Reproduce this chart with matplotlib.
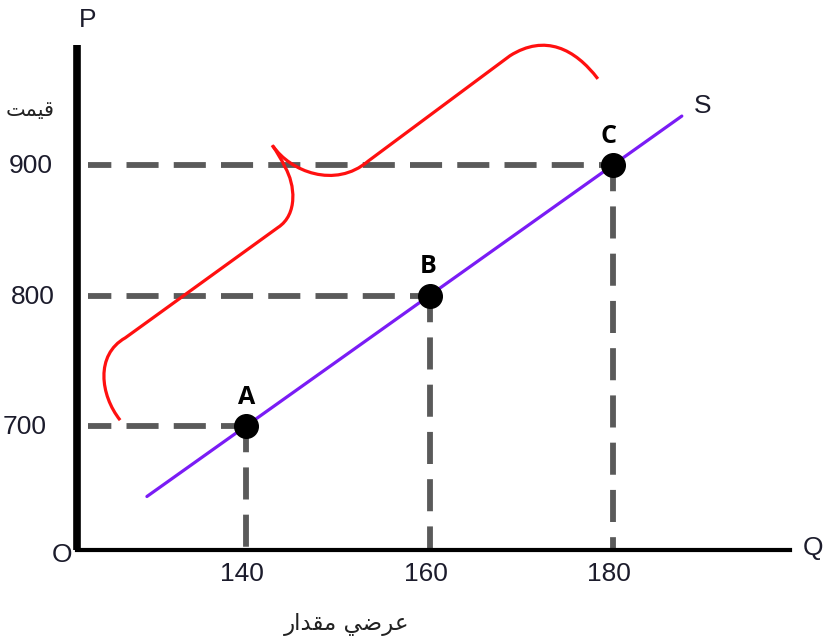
import matplotlib
matplotlib.use("Agg")
import matplotlib.pyplot as plt
from matplotlib.path import Path
from matplotlib.patches import PathPatch

# ---- data ----
point_labels = ["A", "B", "C"]
point_q = [140, 160, 180]
point_p = [700, 800, 900]
supply_q = [129.2, 140, 160, 180, 187.5]
supply_p = [646, 700, 800, 900, 937.5]
x_ticks = [140, 160, 180]
x_tick_labels = ["140", "160", "180"]
y_ticks = [700, 800, 900]
y_tick_labels = ["700", "800", "900"]
y_label = "\uFE96\uFEE4\uFEF4\uFED7"                      # قیمت (shaped, visual order)
x_label = "\uFEAD\uFE8D\uFEAA\uFED8\uFEE3 \uFEF2\uFEBF\uFEAE\uFECB"  # عرضی مقدار

# freehand brace annotation (data coords, Bezier control points)
brace_lower = [(126.28, 704.5), (124.11, 723.7), (123.56, 754.5), (126.83, 767.5),
               (143.50, 852.2), (145.67, 862.2), (145.35, 885.2), (144.26, 898.3),
               (143.71, 906.8), (142.84, 915.2)]
brace_lower_codes = [Path.MOVETO, Path.CURVE4, Path.CURVE4, Path.CURVE4,
                     Path.LINETO, Path.CURVE4, Path.CURVE4, Path.CURVE4,
                     Path.CURVE3, Path.CURVE3]
brace_upper = [(142.95, 914.5), (144.80, 895.2), (149.70, 881.4), (153.30, 902.9),
               (168.77, 983.7), (172.58, 1000.6), (175.85, 989.1), (178.35, 966.0)]
brace_upper_codes = [Path.MOVETO, Path.CURVE4, Path.CURVE4, Path.CURVE4,
                     Path.LINETO, Path.CURVE4, Path.CURVE4, Path.CURVE4]

W, H = 826, 643
fig = plt.figure(figsize=(W / 100, H / 100), dpi=100)
ax = fig.add_axes([77 / W, (H - 550) / H, (790 - 77) / W, (550 - 45) / H])
ax.set_xlim(121.58, 199.29)
ax.set_ylim(605.0, 991.95)

for s in ["top", "right"]:
    ax.spines[s].set_visible(False)
ax.spines["left"].set_linewidth(5.5)
ax.spines["bottom"].set_linewidth(3)
ax.spines["left"].set_capstyle("butt")

ax.set_xticks(x_ticks)
ax.set_yticks(y_ticks)
ax.set_xticklabels([])
ax.set_yticklabels([])
ax.tick_params(axis="both", length=0)

tick_txt = dict(fontsize=19, family="Liberation Sans", color="#1c1c2c")
# y tick labels (right edges as in the reference)
for v, lab, dx in zip(y_ticks, y_tick_labels, [30, 22, 24]):
    ax.annotate(lab, xy=(0, v), xycoords=("axes fraction", "data"),
                xytext=(-dx, -1), textcoords="offset pixels",
                ha="right", va="center", **tick_txt)
# x tick labels
for v, lab in zip(x_ticks, x_tick_labels):
    ax.annotate(lab, xy=(v, 0), xycoords=("data", "axes fraction"),
                xytext=(-4, -12), textcoords="offset pixels",
                ha="center", va="top", **tick_txt)

dash_color = "#5a5a5a"
x_start = 122.8
for q, p in zip(point_q, point_p):
    ax.plot([x_start, q], [p, p], color=dash_color, lw=4.2,
            linestyle=(1.5, (5.5, 2.6)), solid_capstyle="butt", zorder=2)
    ax.plot([q, q], [p, 605.0], color=dash_color, lw=4.2,
            linestyle=(1.0, (5.5, 2.6)), solid_capstyle="butt", zorder=2)

ax.plot(supply_q, supply_p, color="#7a1cf5", lw=2.3, zorder=3,
        solid_capstyle="round")

ax.add_patch(PathPatch(Path(brace_lower, brace_lower_codes), fill=False,
                       edgecolor="#ff1010", lw=2.3, zorder=4, clip_on=False))
ax.add_patch(PathPatch(Path(brace_upper, brace_upper_codes), fill=False,
                       edgecolor="#ff1010", lw=2.3, zorder=4, clip_on=False))

ax.plot(point_q, point_p, "o", color="black", markersize=17, zorder=5)
for lab, q, p, dx in zip(point_labels, point_q, point_p, [1, -1, -5]):
    ax.annotate(lab, (q, p), xytext=(dx, 29), textcoords="offset pixels",
                ha="center", va="center", fontsize=18, fontweight="bold",
                family="Open Sans", color="black", zorder=6)

txt = dict(fontsize=19, family="Liberation Sans", color="#1c1c2c")
fig.text(88 / W, 1 - 20 / H, "P", ha="center", va="center", **txt)
fig.text(62 / W, 1 - 555 / H, "O", ha="center", va="center", **txt)
fig.text(813 / W, 1 - 548 / H, "Q", ha="center", va="center", **txt)
fig.text(703 / W, 1 - 106 / H, "S", ha="center", va="center", **txt)

fig.text(30 / W, 1 - 110 / H, y_label, ha="center", va="center",
         fontsize=15, family="DejaVu Sans", color="#222222")
fig.text(347 / W, 1 - 625 / H, x_label, ha="center", va="center",
         fontsize=16.5, family="DejaVu Sans", color="#222222")

fig.savefig("out.png", dpi=100)
